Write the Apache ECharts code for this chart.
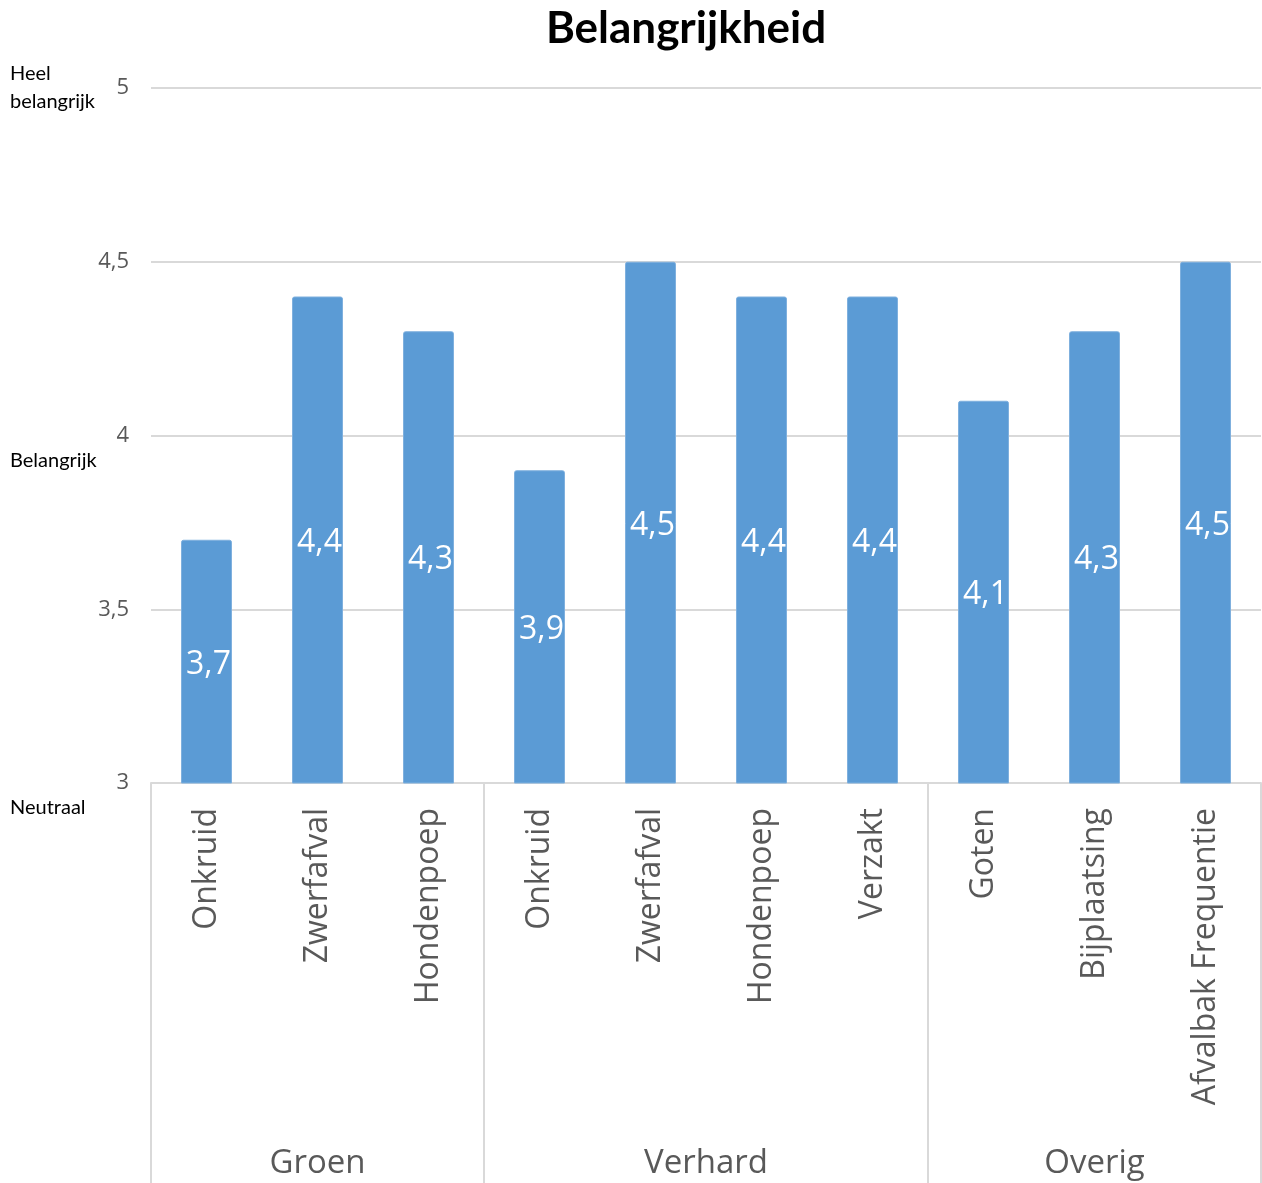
<!DOCTYPE html>
<html>
<head>
<meta charset="utf-8">
<script src="https://cdn.jsdelivr.net/npm/echarts@6/dist/echarts.min.js"></script>
<style>
    html, body { margin: 0; padding: 0; background: #fff; }
    #chart { width: 1262px; height: 1183px; }
</style>
</head>
<body>
<div id="chart"></div>
<script>
const categories = ["Onkruid", "Zwerfafval", "Hondenpoep", "Onkruid", "Zwerfafval", "Hondenpoep", "Verzakt", "Goten", "Bijplaatsing", "Afvalbak Frequentie"];
const values = [3.7, 4.4, 4.3, 3.9, 4.5, 4.4, 4.4, 4.1, 4.3, 4.5];
const groups = ["Groen", "Verhard", "Overig"];
const groupSizes = [3, 4, 3];
const scaleLabels = { 5: "Heel\nbelangrijk", 4: "Belangrijk", 3: "Neutraal" };

const textGrey = "#595959";
const lineGrey = "#d9d9d9";
const comma = v => String(v).replace(".", ",");

// group boundaries and centres on a 0..n scale
const bounds = [0];
groupSizes.forEach(s => bounds.push(bounds[bounds.length - 1] + s));
const centres = groupSizes.map((s, i) => bounds[i] + s / 2);

const chart = echarts.init(document.getElementById("chart"));

chart.setOption({
    animation: false,
    title: {
        text: "Belangrijkheid",
        left: 681,
        textAlign: "center",
        top: 2,
        textStyle: {
            fontFamily: "Lato",
            fontSize: 44,
            fontWeight: "bold",
            color: "#000"
        }
    },
    grid: {
        left: 151,
        right: 1,
        top: 88,
        bottom: 400
    },
    xAxis: [
        {
            type: "category",
            data: categories,
            axisLine: { lineStyle: { color: lineGrey, width: 2 } },
            axisTick: { show: false },
            axisLabel: {
                rotate: 90,
                margin: 25,
                fontFamily: "Open Sans",
                fontSize: 32,
                color: textGrey
            }
        },
        {
            // group level: boundaries as long ticks, names centred per group
            type: "value",
            min: 0,
            max: categories.length,
            position: "bottom",
            axisLine: { show: false },
            splitLine: { show: false },
            axisTick: {
                show: true,
                customValues: bounds,
                length: 400,
                lineStyle: { color: lineGrey, width: 2 }
            },
            axisLabel: {
                customValues: centres,
                margin: 364,
                fontFamily: "Open Sans",
                fontSize: 33,
                color: textGrey,
                formatter: v => groups[centres.indexOf(v)] || ""
            }
        }
    ],
    yAxis: [
        {
            type: "value",
            min: 3,
            max: 5,
            interval: 0.5,
            axisLine: { show: false },
            axisTick: { show: false },
            splitLine: { lineStyle: { color: lineGrey, width: 2 } },
            axisLabel: {
                margin: 22,
                fontFamily: "Open Sans",
                fontSize: 22,
                color: textGrey,
                formatter: comma
            }
        },
        {
            type: "value",
            min: 3,
            max: 5,
            position: "left",
            axisLine: { show: false },
            axisTick: { show: false },
            splitLine: { show: false },
            axisLabel: {
                customValues: [3, 4, 5],
                align: "left",
                margin: 141,
                formatter: v => v === 5 ? `{a|${scaleLabels[v]}}` : `{b|${scaleLabels[v]}}`,
                rich: {
                    a: { fontFamily: "Lato", fontSize: 20, lineHeight: 28, color: "#000" },
                    b: { fontFamily: "Lato", fontSize: 20, lineHeight: 22, color: "#000", padding: [50, 0, 0, 0] }
                }
            }
        }
    ],
    series: [
        {
            type: "bar",
            data: values,
            barWidth: 51,
            itemStyle: {
                color: "#5b9bd5",
                borderColor: "#7fb0de",
                borderWidth: 1,
                borderRadius: [2, 2, 0, 0]
            },
            label: {
                show: true,
                position: "inside",
                offset: [2, 3],
                fontFamily: "Open Sans",
                fontSize: 32,
                color: "#fff",
                formatter: p => comma(p.value)
            }
        }
    ]
});
</script>
</body>
</html>
